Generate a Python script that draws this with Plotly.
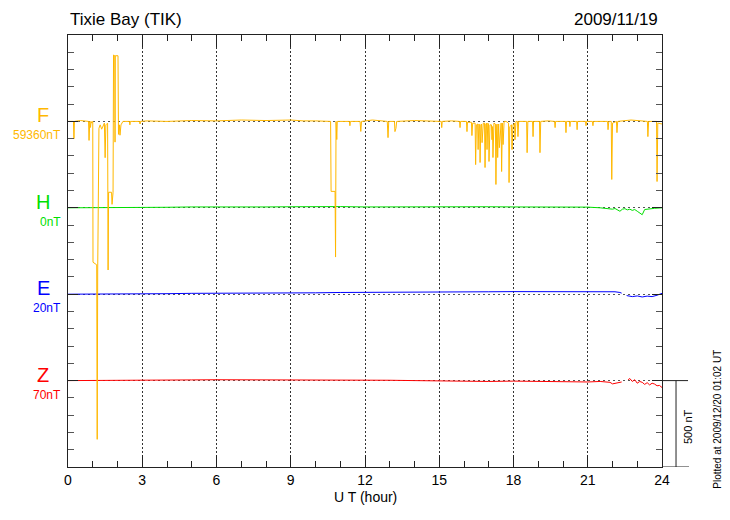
import plotly.graph_objects as go

# ---------------- data ----------------
STATION = "Tixie Bay (TIK)"
DATE = "2009/11/19"
PLOTTED = "Plotted at 2009/12/20 01:02 UT"

X_TICKS = [0, 3, 6, 9, 12, 15, 18, 21, 24]

# component names, baseline values (nT) and stacking offsets (nT on the plot scale)
COMPONENTS = ["F", "H", "E", "Z"]
BASE_NT = [59360, 0, 20, 70]
OFFSETS = [2000, 1500, 1000, 500]
COLORS = ["#FFB800", "#00E000", "#0000FF", "#FF0000"]

# F : deviation from 59360 nT
F_hours = [
    0.00, 0.22, 0.24, 0.26, 0.50, 0.83, 0.85, 0.88, 0.91, 0.93, 0.96,
    1.00, 1.01, 1.16, 1.18, 1.20, 1.25, 1.30, 1.36, 1.42, 1.47,
    1.50, 1.53, 1.60, 1.62, 1.64, 1.76, 1.78, 1.80, 1.82,
    1.84, 1.89, 1.90, 1.91, 2.02, 2.04, 2.08, 2.10, 2.14, 2.22,
    2.48, 2.50, 2.52, 2.89, 2.91, 2.93, 3.20, 4.00, 5.00, 6.00,
    7.00, 8.00, 9.00, 9.50, 10.00, 10.40, 10.61, 10.63, 10.79, 10.81,
    10.83, 10.86, 10.88, 11.37, 11.39, 11.41, 11.80, 11.83, 11.86,
    12.30, 12.50, 12.90, 12.93, 12.96, 13.19, 13.21, 13.25, 13.28,
    14.00, 14.50, 15.08, 15.10, 15.12, 15.50, 15.82, 15.84, 15.86,
    16.10, 16.12, 16.14, 16.30, 16.32, 16.35, 16.45, 16.47, 16.50,
    16.55, 16.57, 16.60, 16.63, 16.65, 16.68, 16.71, 16.73, 16.78,
    16.83, 16.85, 16.88, 16.91, 16.93, 16.96, 16.99, 17.01, 17.05,
    17.11, 17.13, 17.15, 17.17, 17.21, 17.27, 17.29, 17.32,
    17.34, 17.36, 17.40, 17.43, 17.47, 17.50, 17.52, 17.55, 17.58, 17.62,
    17.70, 17.80, 17.82, 17.85, 17.92, 17.94, 17.98, 18.04, 18.06, 18.10,
    18.16, 18.18, 18.21, 18.53, 18.55, 18.58, 18.77, 18.79, 18.81,
    19.05, 19.07, 19.10, 19.40, 19.66, 19.68, 19.70,
    20.10, 20.12, 20.14, 20.26, 20.28, 20.30, 20.55, 20.57, 20.59,
    20.91, 20.93, 20.95, 21.19, 21.21, 21.23, 21.50,
    21.80, 21.82, 21.85, 21.95, 21.97, 22.00, 22.16, 22.18, 22.21,
    22.75, 23.20, 23.41, 23.43, 23.46, 23.78, 23.80, 23.83, 24.00,
]
F_dev = [
    0, 0, -100, 0, 5, 0, -110, 0, -35, 0, -10,
    0, -815, -830, -1840, -860, -40, -20, -45, -25, -10,
    -210, -20, -10, -860, -410, -410, -480, -410, -410,
    384, 380, -120, 380, 380, -75, -20, -80, -20, 0,
    0, -20, 0, 0, -15, 0, 3, 0, 5, 3,
    8, 5, 8, 3, 3, 0, 0, -405, -405, -785,
    0, -105, 0, 0, -25, 0, 0, -58, 0,
    8, 5, 0, -94, 0, 0, -59, -40, 0,
    5, 3, 0, -36, 0, 3, 0, -36, 0,
    0, -59, -5, -5, -82, -10, -10, -250, -20,
    -15, -163, -15, -20, -238, -20, -15, -123, -10,
    -10, -267, -15, -10, -163, -10, -15, -232, -20,
    -20, -106, -30, -209, -10, -15, -365, -20,
    -15, -209, -15, -152, -10, -10, -290, -10, -134, 0,
    0, -10, -354, -30, -20, -163, -20, -10, -106, 0,
    0, -88, 0, 0, -181, 0, 0, -88, 0,
    0, -181, 0, 3, 0, -36, 0,
    0, -65, 0, 0, -30, 0, 0, -48, 0,
    0, -25, 0, 0, -25, 0, 0,
    0, -48, 0, 0, -336, -10, 0, -65, 0,
    8, 0, 0, -88, 0, 0, -348, -10, -15,
]

# H (nT)
H_hours = [0, 1, 2, 3, 4, 5, 6, 7, 8, 9, 10, 11, 12, 13, 14, 15, 16, 17, 18, 19,
           20, 20.5, 21, 21.5, 21.8, 22.0, 22.1, 22.2, 22.3, 22.4, 22.5, 22.6, 22.7,
           22.8, 22.9, 23.0, 23.1, 23.2, 23.3, 23.5, 23.7, 24]
H_nT = [0, 0, 2, 3, 3, 5, 4, 6, 5, 6, 8, 7, 5, 6, 4, 5, 5, 6, 5, 6,
        6, 5, 4, 0, -3, -8, -4, -12, -20, -8, -5, -12, -8,
        -15, -10, -20, -30, -40, -10, -5, -3, 0]

# E (nT)
E_hours = [0, 1, 2, 3, 4, 5, 6, 7, 8, 9, 10, 11, 12, 13, 14, 15, 16, 17, 18, 19,
           20, 21, 21.5, 21.9, 22.1, 22.3, 22.37, 22.45, 22.57, 22.8, 23.0, 23.2,
           23.4, 23.6, 23.8, 24]
E_nT = [20, 20, 22, 23, 23, 25, 25, 26, 26, 28, 28, 30, 30, 31, 31, 32, 33, 34, 35, 35,
        34, 35, 35, 36, 34, 30, 26, None, 12, 6, 10, 4,
        9, 6, 14, 25]

# Z (nT)
Z_hours = [0, 1, 2, 3, 4, 5, 6, 7, 8, 9, 10, 11, 12, 13, 14, 15, 16, 17, 18, 19,
           20, 21, 21.5, 21.9, 22.0, 22.1, 22.37, 22.5, 22.63, 22.7, 22.8, 22.9,
           23.0, 23.1, 23.2, 23.3, 23.4, 23.5, 23.6, 23.7, 23.8, 23.9, 24.0]
Z_nT = [70, 70, 72, 73, 74, 74, 75, 75, 74, 75, 74, 73, 74, 72, 70, 68, 67, 65, 67, 65,
        66, 62, 65, 60, 51, 55, 62, None, 75, 82, 65, 75,
        55, 65, 60, 48, 58, 45, 55, 50, 40, 42, 30]

SERIES_HOURS = [F_hours, H_hours, E_hours, Z_hours]
SERIES_VALUES = [F_dev, H_nT, E_nT, Z_nT]
BASE_IS_DEV = [True, False, False, False]

SCALE_NT = 500
FONT = "Liberation Sans, Arial, sans-serif"

# ---------------- figure ----------------
fig = go.Figure()

# draw H, E, Z first, F last (on top)
for i in [1, 2, 3, 0]:
    vals = SERIES_VALUES[i]
    if BASE_IS_DEV[i]:
        y = [None if v is None else OFFSETS[i] + v for v in vals]
    else:
        y = [None if v is None else OFFSETS[i] + (v - BASE_NT[i]) for v in vals]
    fig.add_trace(go.Scatter(
        x=SERIES_HOURS[i], y=y, mode="lines",
        line=dict(color=COLORS[i], width=1),
        connectgaps=False, hoverinfo="skip", showlegend=False,
    ))

axis_col = "#222222"

fig.update_xaxes(
    range=[0, 24], tickmode="array", tickvals=X_TICKS,
    ticktext=[str(t) for t in X_TICKS],
    ticks="inside", ticklen=12, tickwidth=1, tickcolor=axis_col,
    showline=True, linecolor=axis_col, linewidth=1, mirror="allticks",
    showgrid=True, gridcolor="#333333", gridwidth=1, griddash="2px,2px",
    zeroline=False,
    tickfont=dict(family=FONT, size=14, color="#000"),
    minor=dict(dtick=1, tick0=0, ticks="inside", ticklen=6, tickcolor=axis_col,
               showgrid=False),
)
fig.update_yaxes(
    range=[0, 2500], tickmode="linear", tick0=0, dtick=500,
    ticks="inside", ticklen=10, tickwidth=1, tickcolor=axis_col,
    showticklabels=False,
    showline=True, linecolor=axis_col, linewidth=1, mirror="allticks",
    showgrid=True, gridcolor="#555555", gridwidth=1, griddash="2px,3px",
    zeroline=False,
    minor=dict(dtick=100, tick0=0, ticks="inside", ticklen=6, tickcolor="#555555",
               showgrid=False),
)

annotations = [
    dict(text=STATION, x=0, y=1.035, xref="paper", yref="paper",
         xanchor="left", yanchor="middle", showarrow=False,
         font=dict(family=FONT, size=17, color="#000")),
    dict(text=DATE, x=0.997, y=1.035, xref="paper", yref="paper",
         xanchor="right", yanchor="middle", showarrow=False,
         font=dict(family=FONT, size=17, color="#000")),
    dict(text="U T (hour)", x=0.5, y=-0.0694, xref="paper", yref="paper",
         xanchor="center", yanchor="middle", showarrow=False,
         font=dict(family=FONT, size=14, color="#000")),
    dict(text="%d nT" % SCALE_NT, x=1.0438, y=0.0926, xref="paper", yref="paper",
         xanchor="center", yanchor="middle", showarrow=False, textangle=-90,
         font=dict(family=FONT, size=11, color="#000")),
    dict(text=PLOTTED, x=1.093, y=0.11, xref="paper", yref="paper",
         xanchor="center", yanchor="middle", showarrow=False, textangle=-90,
         font=dict(family=FONT, size=10, color="#000")),
]
for name, base, off, col in zip(COMPONENTS, BASE_NT, OFFSETS, COLORS):
    annotations.append(dict(text=name, x=-0.042, y=off, xref="paper", yref="y",
                            xanchor="center", yanchor="middle", yshift=6,
                            showarrow=False, font=dict(family=FONT, size=20, color=col)))
    annotations.append(dict(text="%dnT" % base, x=-0.0084, y=off, xref="paper", yref="y",
                            xanchor="right", yanchor="middle", yshift=-14,
                            showarrow=False, font=dict(family=FONT, size=12, color=col)))

shapes = [
    # scale bar
    dict(type="line", xref="paper", yref="y", x0=1, x1=1.0438, y0=OFFSETS[3], y1=OFFSETS[3],
         line=dict(color=axis_col, width=1)),
    dict(type="line", xref="paper", yref="y", x0=1.0236, x1=1.0236, y0=OFFSETS[3] - SCALE_NT,
         y1=OFFSETS[3], line=dict(color=axis_col, width=1)),
    dict(type="line", xref="paper", yref="y", x0=1, x1=1.0455, y0=0, y1=0,
         line=dict(color=axis_col, width=1)),
]

# the page body adds an 8px margin, so the figure is 8px smaller and margins shifted
fig.update_layout(
    width=722, height=512,
    margin=dict(l=60, r=68, t=27, b=53, autoexpand=False),
    paper_bgcolor="white", plot_bgcolor="white",
    annotations=annotations, shapes=shapes,
    showlegend=False,
)

fig.write_html("out.html")
